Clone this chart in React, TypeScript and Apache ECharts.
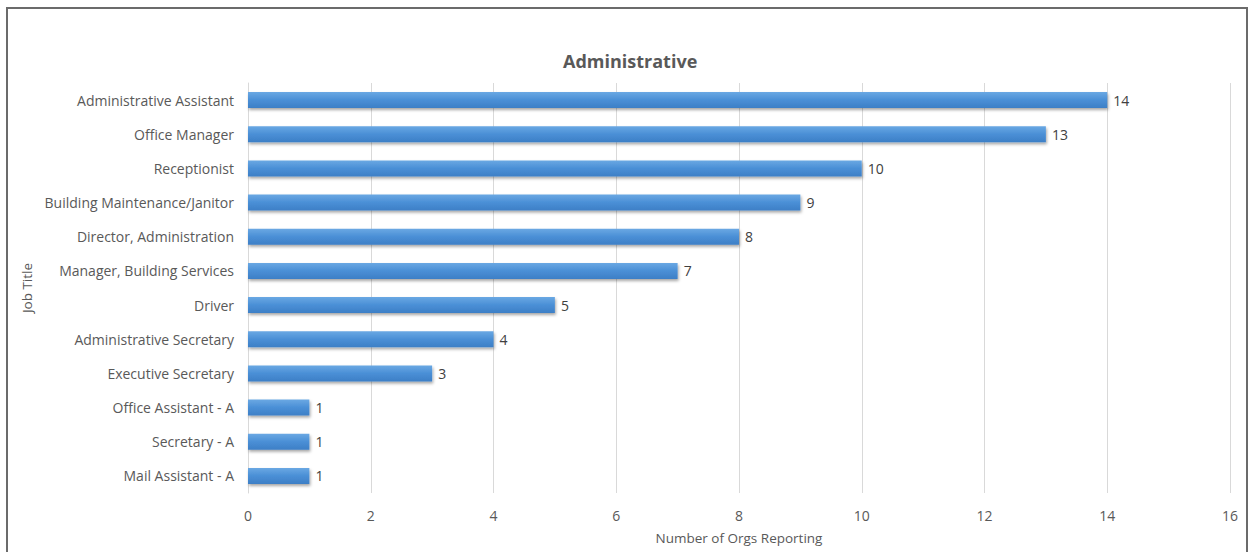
import React, { useEffect, useRef } from "react";
import * as echarts from "echarts";

const categories = [
  "Administrative Assistant",
  "Office Manager",
  "Receptionist",
  "Building Maintenance/Janitor",
  "Director, Administration",
  "Manager, Building Services",
  "Driver",
  "Administrative Secretary",
  "Executive Secretary",
  "Office Assistant - A",
  "Secretary - A",
  "Mail Assistant - A",
];
const values = [14, 13, 10, 9, 8, 7, 5, 4, 3, 1, 1, 1];
const chartTitle = "Administrative";
const xAxisTitle = "Number of Orgs Reporting";
const yAxisTitle = "Job Title";

const FONT = "'Open Sans', 'Noto Sans', sans-serif";

export default function App() {
  const ref = useRef<HTMLDivElement>(null);
  useEffect(() => {
    if (!ref.current) return;
    const chart = echarts.init(ref.current, undefined, { renderer: "svg" });
    chart.setOption({
      animation: false,
      backgroundColor: "#ffffff",
      title: {
        text: chartTitle,
        left: 558,
        top: 47,
        textStyle: { fontFamily: FONT, fontSize: 18, fontWeight: "bold", color: "#595959" },
      },
      graphic: [
        {
          type: "rect",
          shape: { x: 7, y: 8, width: 1240, height: 600 },
          style: { fill: "none", stroke: "#6b6b6b", lineWidth: 2 },
          silent: true,
        },
      ],
      grid: { left: 248, right: 18, top: 83, bottom: 59 },
      xAxis: {
        type: "value",
        min: 0,
        max: 16,
        interval: 2,
        name: xAxisTitle,
        nameLocation: "middle",
        nameGap: 38,
        nameTextStyle: { fontFamily: FONT, fontSize: 13.5, color: "#595959" },
        axisLine: { show: false },
        axisTick: { show: false },
        axisLabel: { fontFamily: FONT, fontSize: 14, color: "#595959", margin: 15 },
        splitLine: { show: true, lineStyle: { color: "#d9d9d9", width: 1 } },
      },
      yAxis: {
        type: "category",
        data: categories,
        inverse: true,
        name: yAxisTitle,
        nameLocation: "middle",
        nameGap: 208,
        nameRotate: 90,
        nameTextStyle: { fontFamily: FONT, fontSize: 13.5, color: "#595959" },
        axisLine: { show: true, lineStyle: { color: "#d9d9d9" } },
        axisTick: { show: false },
        axisLabel: { fontFamily: FONT, fontSize: 14, color: "#595959", margin: 14 },
      },
      series: [
        {
          type: "bar",
          data: values,
          barWidth: 16,
          itemStyle: {
            color: new echarts.graphic.LinearGradient(0, 0, 0, 1, [
              { offset: 0, color: "#6aa8e3" },
              { offset: 0.5, color: "#4a8fd6" },
              { offset: 1, color: "#3d7fc6" },
            ]),
            shadowColor: "rgba(0,0,0,0.35)",
            shadowBlur: 3,
            shadowOffsetX: 1,
            shadowOffsetY: 2,
          },
          label: {
            show: true,
            position: "right",
            distance: 6,
            fontFamily: FONT,
            fontSize: 14,
            color: "#404040",
          },
        },
      ],
    });
    return () => chart.dispose();
  }, []);
  return (
    <div
      ref={ref}
      style={{ position: "fixed", left: 0, top: 0, width: 1248, height: 552 }}
    />
  );
}
